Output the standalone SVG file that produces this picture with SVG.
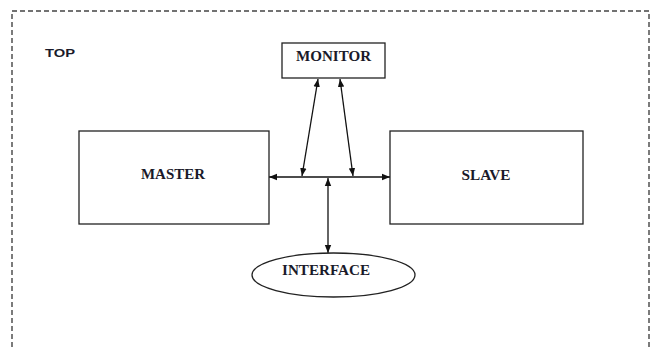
<svg xmlns="http://www.w3.org/2000/svg" width="654" height="347" viewBox="0 0 654 347">
<style>
.box{fill:#fff;stroke:#222;stroke-width:1.3}
.lbl{font-family:"Liberation Serif",serif;font-weight:bold;font-size:14px;fill:#1a1a2a;text-anchor:middle}
.con{stroke:#111;stroke-width:1.3;fill:none;marker-start:url(#ah);marker-end:url(#ah)}
</style>
<defs>
<marker id="ah" viewBox="0 0 10 10" refX="10" refY="5" markerWidth="8" markerHeight="8" markerUnits="userSpaceOnUse" orient="auto-start-reverse">
<path d="M0,1 L10,5 L0,9 z" fill="#111"/>
</marker>
</defs>
<rect width="654" height="347" fill="#fff"/>
<path d="M12,347 V11 H649 V347" fill="none" stroke="#444" stroke-width="1.4" stroke-dasharray="5,3"/>
<text x="45" y="57" font-family="Liberation Sans,sans-serif" font-weight="bold" font-size="11" fill="#1a1a2a" textLength="30" lengthAdjust="spacingAndGlyphs">TOP</text>
<g id="connectors">
<line class="con" x1="269" y1="177" x2="390" y2="177"/>
<line class="con" x1="328" y1="178" x2="328" y2="253"/>
<line class="con" x1="318" y1="79" x2="302" y2="176"/>
<line class="con" x1="340" y1="79" x2="353" y2="176"/>
</g>
<g id="monitor">
<rect class="box" x="282" y="43" width="103" height="35"/>
<text class="lbl" x="333.5" y="61" textLength="75" lengthAdjust="spacingAndGlyphs">MONITOR</text>
</g>
<g id="master">
<rect class="box" x="79" y="131" width="190" height="93"/>
<text class="lbl" x="173" y="179" textLength="64" lengthAdjust="spacingAndGlyphs">MASTER</text>
</g>
<g id="slave">
<rect class="box" x="390" y="131" width="193" height="93"/>
<text class="lbl" x="486" y="180" textLength="49" lengthAdjust="spacingAndGlyphs">SLAVE</text>
</g>
<g id="interface">
<ellipse class="box" cx="333.5" cy="275" rx="81.5" ry="22"/>
<text class="lbl" x="326" y="275" textLength="88" lengthAdjust="spacingAndGlyphs">INTERFACE</text>
</g>
</svg>
